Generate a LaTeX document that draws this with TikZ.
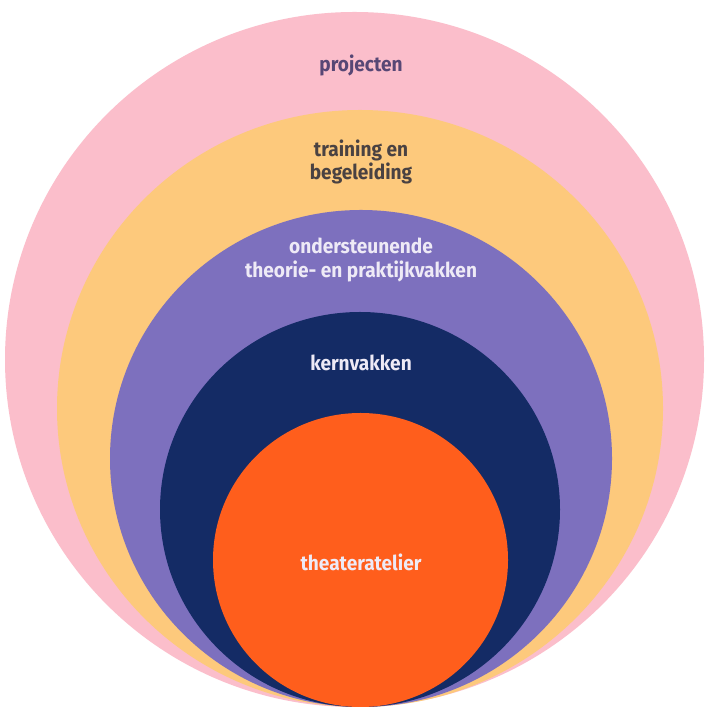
\documentclass[tikz,border=0pt]{standalone}
\usepackage{fontspec}
\newfontfamily\labfont[FakeStretch=0.93]{Fira Sans}
\definecolor{cpink}{HTML}{FBBECB}
\definecolor{cyellow}{HTML}{FDC97C}
\definecolor{cpurple}{HTML}{7D70BE}
\definecolor{cnavy}{HTML}{142B65}
\definecolor{corange}{HTML}{FF5E1C}
\definecolor{tpurple}{HTML}{574775}
\definecolor{tgrey}{HTML}{4A4242}
\definecolor{tlight}{HTML}{EEEAF6}
\tikzset{
  ring/.style={draw=none},
  lab/.style={font=\labfont\fontsize{20.5}{23.5}\selectfont\bfseries, align=center, inner sep=0pt}
}
\begin{document}
\begin{tikzpicture}[x=1pt,y=1pt]
\useasboundingbox (0,0) rectangle (706,708);
\fill[white] (0,0) rectangle (706,708);
\fill[cpink]   (354.5,348.5) ellipse [x radius=349.5, y radius=347.5];
\fill[cyellow] (360,299.5) ellipse [x radius=303, y radius=298.5];
\fill[cpurple] (361,249.5) ellipse [x radius=251, y radius=248.5];
\fill[cnavy]   (360,198.5) ellipse [x radius=200, y radius=197.5];
\fill[corange] (360.5,148) ellipse [x radius=147.5, y radius=147];
\node[lab, text=tpurple] (proj) at (361,643) {projecten};
\node[lab, text=tgrey] (train) at (361,546) {training en\\begeleiding};
\node[lab, text=tlight] (onder) at (361,448) {ondersteunende\\theorie- en praktijkvakken};
\node[lab, text=tlight] (kern) at (361,345) {kernvakken};
\node[lab, text=tlight] (thea) at (361,146) {theateratelier};
\end{tikzpicture}
\end{document}
